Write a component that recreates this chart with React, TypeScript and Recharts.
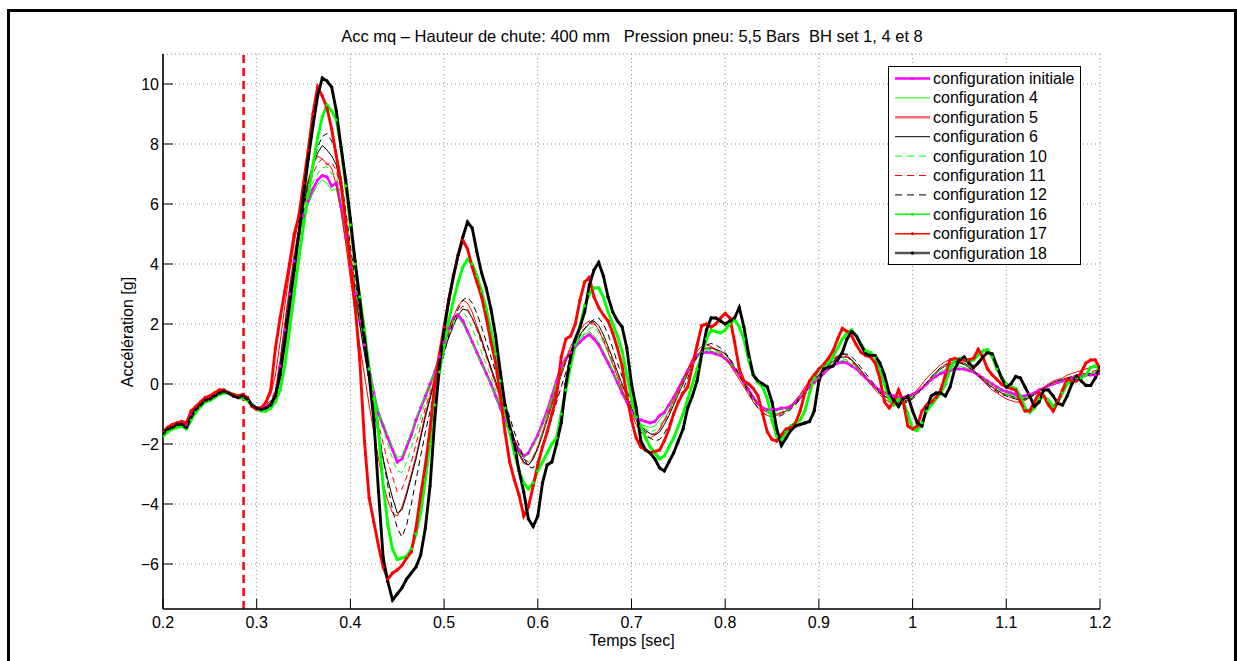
import React from 'react';
import { LineChart, Line, XAxis, YAxis, CartesianGrid, ReferenceLine, Legend } from 'recharts';

// Sampling grid: 0.200 s to 1.200 s, every 5 ms (201 samples)
const T_START = 0.2;
const T_STEP = 0.005;
const N_SAMPLES = 201;
const TIME: number[] = Array.from({ length: N_SAMPLES }, (_, i) => Math.round((T_START + i * T_STEP) * 1000) / 1000);

const X_TICKS = [0.2, 0.3, 0.4, 0.5, 0.6, 0.7, 0.8, 0.9, 1, 1.1, 1.2];
const Y_TICKS = [-6, -4, -2, 0, 2, 4, 6, 8, 10];
const X_DOMAIN: [number, number] = [0.2, 1.2];
const Y_DOMAIN: [number, number] = [-7.5, 11];
const DROP_TIME = 0.286;

const TITLE = 'Acc mq \u2013 Hauteur de chute: 400 mm   Pression pneu: 5,5 Bars  BH set 1, 4 et 8';
const X_LABEL = 'Temps [sec]';
const Y_LABEL = 'Acc\u00e9l\u00e9ration [g]';

// configuration initiale
const CFG_INIT = [
  -1.6,-1.5,-1.4,-1.35,-1.35,-1.4,-1.05,-0.85,-0.7,-0.55,-0.45,-0.35,-0.3,-0.25,-0.3,-0.4,-0.45,-0.45,-0.5,-0.7,-0.8,-0.8,-0.75,-0.7,
  -0.4,0.6,1.8,3.0,4.1,5.0,5.6,6.1,6.5,6.8,6.95,6.9,6.6,6.7,5.9,4.9,3.9,3.0,2.1,1.3,0.5,-0.3,-1.0,-1.4,-1.8,-2.2,-2.6,-2.5,-2.1,-1.7,-1.2,-0.8,-0.4,0.0,0.4,0.9,
  1.4,1.85,2.2,2.3,2.1,1.75,1.4,1.05,0.7,0.35,0.0,-0.4,-0.8,-1.2,-1.6,-1.95,-2.2,-2.4,-2.3,-2.0,-1.7,-1.3,-0.9,-0.4,0.1,0.6,0.85,1.05,1.25,1.4,1.55,1.65,1.5,1.3,1.0,0.7,0.4,0.05,-0.3,-0.6,
  -0.95,-1.15,-1.2,-1.25,-1.3,-1.25,-1.05,-0.95,-0.7,-0.45,-0.15,0.15,0.45,0.7,0.95,1.05,1.05,1.05,1.0,0.95,0.85,0.7,0.5,0.3,0.05,-0.2,-0.45,-0.65,-0.8,-0.85,-0.85,-0.85,-0.8,-0.8,-0.75,-0.6,-0.45,-0.25,-0.1,0.05,
  0.2,0.35,0.5,0.6,0.7,0.73,0.7,0.6,0.5,0.35,0.2,0.05,-0.1,-0.2,-0.3,-0.35,-0.4,-0.45,-0.45,-0.4,-0.35,-0.25,-0.15,0.0,0.15,0.25,0.35,0.4,0.45,0.5,0.5,0.5,0.45,0.4,0.3,0.2,0.1,0.0,-0.1,-0.2,
  -0.25,-0.3,-0.35,-0.4,-0.4,-0.35,-0.3,-0.2,-0.15,-0.05,0.0,0.05,0.1,0.15,0.2,0.2,0.25,0.3,0.3,0.3,0.35,
];

// configuration 4
const CFG_4 = [
  -1.7,-1.55,-1.45,-1.4,-1.4,-1.5,-1.15,-0.9,-0.75,-0.6,-0.5,-0.4,-0.3,-0.3,-0.35,-0.4,-0.5,-0.5,-0.55,-0.75,-0.85,-0.85,-0.8,-0.75,
  -0.5,0.5,1.7,2.9,4.0,4.9,5.5,6.0,6.35,6.65,6.8,6.7,6.45,6.5,5.8,4.8,3.8,2.9,2.0,1.2,0.4,-0.3,-0.9,-1.3,-1.7,-2.1,-2.45,-2.4,-2.0,-1.6,-1.15,-0.75,-0.35,0.05,0.45,0.9,
  1.35,1.8,2.1,2.2,2.0,1.7,1.35,1.0,0.65,0.3,-0.05,-0.45,-0.85,-1.25,-1.65,-2.0,-2.25,-2.45,-2.35,-2.05,-1.75,-1.35,-0.95,-0.45,0.05,0.55,0.85,1.1,1.3,1.5,1.65,1.75,1.6,1.4,1.1,0.8,0.45,0.1,-0.25,-0.6,
  -0.95,-1.2,-1.35,-1.4,-1.45,-1.4,-1.2,-1.0,-0.75,-0.5,-0.2,0.1,0.4,0.7,0.95,1.05,1.1,1.1,1.05,0.95,0.85,0.7,0.5,0.3,0.05,-0.2,-0.45,-0.65,-0.8,-0.9,-0.9,-0.9,-0.85,-0.8,-0.75,-0.6,-0.45,-0.25,-0.1,0.05,
  0.2,0.35,0.5,0.62,0.72,0.78,0.75,0.65,0.5,0.35,0.2,0.05,-0.1,-0.2,-0.3,-0.4,-0.45,-0.5,-0.5,-0.45,-0.4,-0.3,-0.15,0.0,0.15,0.3,0.4,0.5,0.55,0.6,0.6,0.55,0.5,0.4,0.3,0.2,0.1,0.0,-0.1,-0.2,
  -0.3,-0.35,-0.4,-0.45,-0.45,-0.4,-0.35,-0.25,-0.15,-0.05,0.0,0.05,0.1,0.15,0.2,0.25,0.25,0.3,0.35,0.4,0.4,
];

// configuration 5
const CFG_5 = [
  -1.55,-1.4,-1.35,-1.25,-1.25,-1.3,-0.95,-0.75,-0.6,-0.45,-0.4,-0.3,-0.2,-0.2,-0.25,-0.35,-0.4,-0.4,-0.45,-0.7,-0.8,-0.75,-0.6,-0.35,
  0.3,1.4,2.6,3.7,4.7,5.5,6.2,6.8,7.3,7.6,7.5,7.35,7.2,6.6,5.8,4.7,3.5,2.4,1.3,0.3,-0.7,-1.6,-2.5,-3.3,-3.9,-4.3,-4.4,-4.1,-3.6,-3.0,-2.4,-1.7,-1.0,-0.4,0.2,0.7,
  1.25,1.8,2.25,2.6,2.8,2.7,2.4,1.95,1.5,1.0,0.5,0.0,-0.5,-1.0,-1.5,-1.95,-2.35,-2.65,-2.7,-2.5,-2.1,-1.6,-1.1,-0.6,-0.1,0.4,0.85,1.25,1.55,1.8,2.0,2.1,2.05,1.8,1.45,1.05,0.65,0.25,-0.2,-0.6,
  -1.0,-1.35,-1.6,-1.75,-1.8,-1.7,-1.5,-1.2,-0.9,-0.55,-0.2,0.15,0.5,0.85,1.1,1.25,1.3,1.25,1.15,1.0,0.85,0.65,0.4,0.15,-0.1,-0.35,-0.6,-0.8,-0.95,-1.05,-1.1,-1.05,-1.0,-0.9,-0.75,-0.55,-0.35,-0.1,0.1,0.3,
  0.45,0.6,0.75,0.85,0.95,1.0,0.95,0.8,0.6,0.4,0.2,0.0,-0.2,-0.35,-0.5,-0.6,-0.65,-0.65,-0.6,-0.5,-0.35,-0.2,0.0,0.2,0.35,0.5,0.65,0.75,0.8,0.8,0.75,0.65,0.55,0.4,0.25,0.1,-0.05,-0.2,-0.3,-0.4,
  -0.5,-0.55,-0.6,-0.6,-0.55,-0.45,-0.35,-0.2,-0.1,0.0,0.1,0.15,0.2,0.3,0.35,0.4,0.45,0.5,0.55,0.55,0.6,
];

// configuration 6
const CFG_6 = [
  -1.65,-1.5,-1.45,-1.35,-1.35,-1.4,-1.05,-0.85,-0.7,-0.55,-0.5,-0.4,-0.3,-0.25,-0.3,-0.4,-0.45,-0.45,-0.5,-0.7,-0.8,-0.85,-0.75,-0.6,
  -0.3,0.7,1.9,3.1,4.2,5.2,6.0,6.7,7.3,7.7,7.95,7.8,7.6,7.3,6.5,5.4,4.2,3.1,2.0,1.0,0.1,-0.8,-1.7,-2.5,-3.2,-3.8,-4.3,-4.2,-3.7,-3.1,-2.5,-1.8,-1.1,-0.5,0.1,0.6,
  1.1,1.55,1.95,2.3,2.5,2.45,2.2,1.85,1.45,1.0,0.55,0.1,-0.4,-0.9,-1.4,-1.85,-2.3,-2.6,-2.7,-2.5,-2.15,-1.7,-1.2,-0.7,-0.2,0.3,0.75,1.1,1.4,1.65,1.85,2.0,2.1,1.95,1.65,1.25,0.85,0.4,0.0,-0.4,
  -0.8,-1.15,-1.4,-1.55,-1.65,-1.7,-1.6,-1.35,-1.05,-0.7,-0.35,0.0,0.35,0.7,0.95,1.1,1.2,1.2,1.15,1.1,1.0,0.8,0.55,0.3,0.05,-0.2,-0.45,-0.7,-0.85,-0.95,-1.0,-1.0,-0.95,-0.9,-0.8,-0.65,-0.45,-0.25,-0.05,0.15,
  0.3,0.45,0.6,0.75,0.85,0.9,0.9,0.8,0.65,0.45,0.25,0.05,-0.1,-0.3,-0.4,-0.5,-0.55,-0.6,-0.6,-0.55,-0.45,-0.3,-0.15,0.05,0.2,0.35,0.5,0.6,0.65,0.7,0.7,0.65,0.55,0.45,0.3,0.15,0.0,-0.1,-0.2,-0.3,
  -0.35,-0.4,-0.45,-0.5,-0.5,-0.45,-0.35,-0.25,-0.15,-0.05,0.05,0.1,0.15,0.2,0.2,0.25,0.3,0.3,0.3,0.35,0.4,
];

// configuration 10
const CFG_10 = [
  -1.65,-1.5,-1.4,-1.35,-1.3,-1.4,-1.1,-0.85,-0.7,-0.55,-0.45,-0.35,-0.25,-0.25,-0.3,-0.4,-0.45,-0.45,-0.5,-0.7,-0.8,-0.85,-0.8,-0.7,
  -0.5,0.5,1.7,2.9,4.0,4.9,5.6,6.2,6.7,7.0,7.2,7.25,7.0,6.9,6.3,5.3,4.2,3.2,2.2,1.3,0.5,-0.3,-1.0,-1.5,-2.0,-2.5,-2.9,-2.95,-2.6,-2.1,-1.6,-1.1,-0.6,-0.15,0.3,0.8,
  1.3,1.8,2.15,2.35,2.4,2.2,1.85,1.45,1.05,0.65,0.25,-0.2,-0.65,-1.1,-1.55,-1.95,-2.3,-2.5,-2.6,-2.4,-2.05,-1.6,-1.15,-0.65,-0.15,0.35,0.75,1.05,1.3,1.5,1.7,1.85,1.9,1.7,1.4,1.05,0.7,0.3,-0.1,-0.5,
  -0.9,-1.2,-1.4,-1.5,-1.6,-1.55,-1.4,-1.15,-0.9,-0.6,-0.3,0.05,0.4,0.7,0.95,1.1,1.15,1.15,1.1,1.0,0.9,0.75,0.55,0.3,0.05,-0.25,-0.5,-0.7,-0.85,-0.95,-1.0,-1.0,-0.95,-0.9,-0.8,-0.65,-0.45,-0.25,-0.05,0.1,
  0.25,0.4,0.55,0.7,0.8,0.85,0.8,0.7,0.55,0.4,0.2,0.05,-0.1,-0.25,-0.35,-0.45,-0.5,-0.55,-0.55,-0.5,-0.4,-0.3,-0.15,0.0,0.2,0.35,0.5,0.6,0.65,0.7,0.7,0.65,0.55,0.45,0.35,0.2,0.1,-0.05,-0.15,-0.25,
  -0.35,-0.4,-0.45,-0.5,-0.5,-0.45,-0.35,-0.25,-0.15,-0.05,0.05,0.1,0.15,0.2,0.25,0.25,0.3,0.35,0.35,0.4,0.45,
];

// configuration 11
const CFG_11 = [
  -1.6,-1.45,-1.4,-1.3,-1.3,-1.35,-1.0,-0.8,-0.65,-0.5,-0.45,-0.35,-0.25,-0.2,-0.3,-0.35,-0.45,-0.4,-0.5,-0.7,-0.8,-0.8,-0.7,-0.55,
  -0.2,0.8,2.0,3.2,4.3,5.2,5.9,6.5,7.0,7.35,7.5,7.3,7.4,7.1,6.5,5.5,4.4,3.3,2.3,1.3,0.4,-0.5,-1.3,-2.0,-2.6,-3.1,-3.6,-3.5,-3.1,-2.6,-2.0,-1.4,-0.8,-0.3,0.2,0.7,
  1.2,1.7,2.1,2.4,2.6,2.5,2.2,1.8,1.35,0.9,0.45,0.0,-0.45,-0.9,-1.35,-1.8,-2.2,-2.5,-2.6,-2.45,-2.1,-1.65,-1.2,-0.7,-0.2,0.3,0.75,1.1,1.4,1.65,1.85,2.0,2.0,1.8,1.5,1.15,0.75,0.35,-0.05,-0.45,
  -0.85,-1.2,-1.45,-1.6,-1.7,-1.65,-1.5,-1.25,-0.95,-0.65,-0.3,0.05,0.4,0.75,1.0,1.15,1.2,1.2,1.15,1.05,0.9,0.7,0.5,0.25,0.0,-0.25,-0.5,-0.7,-0.85,-0.95,-1.0,-1.0,-0.95,-0.85,-0.7,-0.55,-0.35,-0.15,0.05,0.2,
  0.35,0.5,0.65,0.8,0.9,0.95,0.9,0.75,0.6,0.45,0.25,0.05,-0.1,-0.25,-0.4,-0.5,-0.55,-0.6,-0.6,-0.55,-0.45,-0.3,-0.15,0.05,0.2,0.4,0.55,0.65,0.7,0.75,0.75,0.7,0.6,0.5,0.35,0.2,0.05,-0.1,-0.2,-0.3,
  -0.4,-0.45,-0.5,-0.55,-0.5,-0.45,-0.35,-0.25,-0.15,-0.05,0.05,0.1,0.15,0.2,0.25,0.3,0.35,0.35,0.4,0.45,0.5,
];

// configuration 12
const CFG_12 = [
  -1.7,-1.55,-1.45,-1.4,-1.35,-1.45,-1.1,-0.9,-0.7,-0.6,-0.5,-0.4,-0.3,-0.3,-0.3,-0.4,-0.45,-0.45,-0.55,-0.7,-0.85,-0.85,-0.8,-0.7,
  -0.5,0.4,1.6,2.8,3.9,4.9,5.8,6.6,7.3,7.9,8.25,8.35,8.1,7.7,6.9,5.8,4.6,3.5,2.4,1.4,0.4,-0.5,-1.5,-2.5,-3.4,-4.2,-4.8,-5.1,-4.7,-4.0,-3.2,-2.4,-1.6,-0.9,-0.2,0.4,
  1.0,1.6,2.1,2.5,2.8,2.9,2.7,2.35,1.9,1.4,0.9,0.4,-0.1,-0.6,-1.1,-1.6,-2.05,-2.45,-2.75,-2.8,-2.55,-2.15,-1.65,-1.15,-0.6,-0.1,0.4,0.85,1.25,1.6,1.85,2.05,2.15,2.2,2.0,1.65,1.2,0.7,0.25,-0.2,
  -0.65,-1.05,-1.4,-1.65,-1.8,-1.9,-1.85,-1.65,-1.35,-1.0,-0.6,-0.2,0.2,0.6,0.9,1.15,1.3,1.35,1.3,1.2,1.05,0.85,0.6,0.3,0.0,-0.3,-0.55,-0.8,-0.95,-1.05,-1.1,-1.1,-1.05,-0.95,-0.85,-0.7,-0.5,-0.3,-0.05,0.15,
  0.35,0.5,0.65,0.8,0.9,1.0,1.0,0.9,0.75,0.55,0.35,0.15,-0.05,-0.25,-0.4,-0.5,-0.6,-0.65,-0.65,-0.6,-0.5,-0.35,-0.15,0.05,0.25,0.4,0.55,0.65,0.7,0.75,0.75,0.7,0.6,0.45,0.3,0.15,0.0,-0.15,-0.25,-0.35,
  -0.4,-0.45,-0.5,-0.55,-0.5,-0.45,-0.35,-0.25,-0.15,-0.05,0.05,0.1,0.15,0.2,0.25,0.3,0.3,0.35,0.35,0.4,0.45,
];

// configuration 16
const CFG_16 = [
  -1.75,-1.6,-1.5,-1.45,-1.4,-1.5,-1.2,-0.95,-0.75,-0.6,-0.55,-0.45,-0.35,-0.3,-0.3,-0.35,-0.4,-0.45,-0.55,-0.7,-0.85,-0.9,-0.9,-0.8,
  -0.6,-0.2,0.6,1.8,3.0,4.2,5.3,6.3,7.3,8.2,8.9,9.3,9.1,8.8,7.9,6.6,5.3,4.0,2.9,1.8,0.5,-0.5,-1.6,-3.4,-4.7,-5.5,-5.85,-5.8,-5.75,-5.5,-5.0,-4.3,-3.2,-2.0,-0.7,0.4,
  1.3,2.1,2.8,3.4,3.9,4.15,4.0,3.6,3.1,2.5,1.8,1.0,0.1,-0.8,-1.6,-2.3,-2.9,-3.3,-3.5,-3.3,-2.9,-2.6,-2.3,-2.0,-1.8,-1.0,-0.2,0.6,1.3,1.9,2.6,3.0,3.2,3.2,2.9,2.4,2.0,1.6,1.1,0.3,
  -0.5,-1.1,-1.4,-1.8,-2.1,-2.3,-2.5,-2.4,-2.1,-1.8,-1.4,-1.0,-0.5,0.0,0.5,1.0,1.5,1.8,1.75,1.7,1.8,2.0,2.15,1.9,1.5,0.8,0.3,0.05,-0.1,-0.5,-1.2,-1.75,-1.85,-1.6,-1.4,-1.3,-1.2,-0.9,-0.3,0.2,
  0.5,0.6,0.7,0.9,1.2,1.5,1.7,1.8,1.6,1.3,1.1,1.05,0.9,0.5,0.0,-0.5,-0.7,-0.5,-0.6,-1.0,-1.5,-1.55,-1.3,-0.9,-0.7,-0.5,-0.3,0.0,0.5,0.8,0.85,0.8,0.75,0.8,0.95,1.1,1.15,0.9,0.5,0.2,
  0.0,-0.1,-0.15,-0.4,-0.8,-0.95,-0.8,-0.5,-0.4,-0.55,-0.75,-0.6,-0.3,0.0,0.1,0.2,0.2,0.3,0.55,0.6,0.5,
];

// configuration 17
const CFG_17 = [
  -1.6,-1.45,-1.35,-1.3,-1.25,-1.3,-0.9,-0.75,-0.6,-0.45,-0.4,-0.3,-0.2,-0.2,-0.3,-0.35,-0.4,-0.35,-0.45,-0.75,-0.85,-0.8,-0.6,-0.2,
  1.2,2.2,3.1,4.0,5.0,5.6,6.7,7.8,9.0,9.9,9.6,9.2,8.5,7.6,6.7,5.4,4.0,2.6,0.8,-1.9,-3.8,-4.6,-5.4,-6.1,-6.5,-6.3,-6.2,-6.05,-5.8,-5.6,-4.8,-3.7,-2.7,-1.5,0.0,1.0,
  1.9,2.8,3.6,4.3,4.8,4.5,3.9,3.4,2.9,2.2,1.4,0.7,-0.4,-1.6,-2.6,-3.2,-3.7,-4.4,-4.1,-3.4,-2.7,-2.1,-1.6,-1.0,-0.4,0.9,1.5,1.6,2.0,2.8,3.4,3.55,2.9,2.55,2.3,2.1,1.7,1.2,0.6,-0.4,
  -1.2,-1.8,-2.1,-2.2,-2.3,-2.25,-2.2,-1.9,-1.5,-1.0,-0.6,-0.3,-0.1,0.6,1.3,1.95,2.0,1.9,2.0,2.2,2.35,2.2,1.4,0.5,0.1,0.0,-0.15,-0.4,-1.0,-1.6,-1.85,-1.9,-1.7,-1.5,-1.45,-1.3,-0.9,-0.3,0.1,0.3,
  0.5,0.65,0.85,1.1,1.5,1.85,1.75,1.6,1.3,1.05,0.95,0.9,0.7,0.2,-0.6,-0.8,-0.6,-0.2,-0.6,-1.4,-1.5,-1.4,-0.9,-0.7,-0.6,-0.45,-0.2,0.3,0.8,0.85,0.8,0.8,0.8,0.85,1.15,0.9,0.5,0.3,0.15,0.0,
  -0.1,-0.15,-0.2,-0.6,-0.9,-0.9,-0.6,-0.3,-0.4,-0.7,-0.9,-0.6,-0.2,0.15,0.1,0.1,0.4,0.7,0.8,0.8,0.5,
];

// configuration 18
const CFG_18 = [
  -1.65,-1.5,-1.45,-1.35,-1.35,-1.45,-1.1,-0.85,-0.7,-0.55,-0.5,-0.4,-0.3,-0.25,-0.3,-0.4,-0.45,-0.4,-0.5,-0.7,-0.8,-0.85,-0.8,-0.7,
  -0.4,0.3,1.4,2.6,3.8,5.0,6.3,7.5,8.6,9.6,10.2,10.1,9.9,9.1,7.9,6.8,5.5,4.1,2.8,1.5,0.3,-1.2,-3.6,-5.8,-6.6,-7.2,-7.0,-6.8,-6.5,-6.3,-6.1,-5.7,-4.8,-3.4,-1.2,0.6,
  1.8,2.8,3.6,4.3,4.9,5.4,5.2,4.4,3.7,3.2,2.5,1.6,0.4,-0.7,-1.4,-2.0,-2.9,-3.6,-4.5,-4.75,-4.4,-3.3,-2.7,-2.6,-2.0,-1.3,0.0,0.9,1.5,1.9,2.4,3.3,3.8,4.05,3.6,2.9,2.4,2.1,1.9,1.2,
  0.0,-0.8,-1.9,-2.2,-2.3,-2.5,-2.8,-2.9,-2.6,-2.3,-1.9,-1.5,-0.8,-0.4,0.1,1.0,1.8,2.2,2.2,2.1,2.0,2.1,2.2,2.55,1.9,1.0,0.3,0.1,0.0,-0.1,-0.6,-1.5,-2.05,-1.8,-1.55,-1.4,-1.35,-1.3,-1.25,-0.9,
  0.1,0.5,0.55,0.6,0.8,1.05,1.5,1.75,1.6,1.3,1.0,0.95,0.95,0.7,0.3,-0.3,-0.55,-0.75,-0.5,-0.4,-0.9,-1.3,-1.4,-0.8,-0.4,-0.3,-0.3,-0.4,-0.1,0.5,0.8,0.9,0.7,0.55,0.7,0.9,1.05,1.0,0.6,0.2,
  -0.1,0.0,0.25,0.2,-0.1,-0.4,-0.75,-0.6,-0.2,-0.2,-0.4,-0.65,-0.7,-0.4,0.0,0.25,0.1,-0.05,-0.05,0.2,0.55,
];

type SeriesStyle = {
  key: string;
  name: string;
  values: number[];
  color: string;
  width: number;
  dash?: string;
  dot?: boolean;
  legendColor: string;
  legendWidth: number;
};

const SERIES: SeriesStyle[] = [
  { key: 'cInit', name: 'configuration initiale', values: CFG_INIT, color: '#ff00ff', width: 2.6, dot: true, legendColor: '#ff00ff', legendWidth: 2.5 },
  { key: 'c4', name: 'configuration 4', values: CFG_4, color: '#00ff00', width: 1, legendColor: '#00ff00', legendWidth: 1 },
  { key: 'c5', name: 'configuration 5', values: CFG_5, color: '#ff0000', width: 1, legendColor: '#ff6a6a', legendWidth: 2.5 },
  { key: 'c6', name: 'configuration 6', values: CFG_6, color: '#000000', width: 1, legendColor: '#000000', legendWidth: 1 },
  { key: 'c10', name: 'configuration 10', values: CFG_10, color: '#00ff00', width: 1, dash: '6 4', legendColor: '#00ff00', legendWidth: 1 },
  { key: 'c11', name: 'configuration 11', values: CFG_11, color: '#ff0000', width: 1, dash: '6 4', legendColor: '#ff0000', legendWidth: 1 },
  { key: 'c12', name: 'configuration 12', values: CFG_12, color: '#000000', width: 1, dash: '6 4', legendColor: '#000000', legendWidth: 1 },
  { key: 'c16', name: 'configuration 16', values: CFG_16, color: '#00ff00', width: 2.9, dot: true, legendColor: '#00ff00', legendWidth: 1.5 },
  { key: 'c17', name: 'configuration 17', values: CFG_17, color: '#ff0000', width: 2.9, dot: true, legendColor: '#ff0000', legendWidth: 1.5 },
  { key: 'c18', name: 'configuration 18', values: CFG_18, color: '#000000', width: 2.9, dot: true, legendColor: '#555555', legendWidth: 2.5 },
];

const DATA = TIME.map((t, i) => {
  const row: Record<string, number> = { t };
  SERIES.forEach((s) => {
    row[s.key] = s.values[i];
  });
  return row;
});

const FONT = '"Liberation Sans", Arial, Helvetica, sans-serif';
const FONT_SIZE = 16;
const TITLE_SIZE = 16.5;

const fmtX = (v: number) => String(Math.round(v * 10) / 10);
const fmtY = (v: number) => (v < 0 ? '\u2212' + String(-v) : String(v));

const LegendBox = () => (
  <svg width={193} height={199} style={{ display: 'block' }}>
    <rect x={0.5} y={0.5} width={192} height={198} fill="#ffffff" stroke="#000000" strokeWidth={1} />
    {SERIES.map((s, i) => {
      const y = 12.5 + i * 19.4;
      return (
        <g key={s.key}>
          <line x1={7} x2={42} y1={y} y2={y} stroke={s.legendColor} strokeWidth={s.legendWidth} strokeDasharray={s.dash ? '7 5' : undefined} />
          {s.dot ? <circle cx={24.5} cy={y} r={1.6} fill={s.color} /> : null}
          <text x={45} y={y + 5.5} fontSize={FONT_SIZE} fontFamily={FONT} fill="#000">{s.name}</text>
        </g>
      );
    })}
  </svg>
);

export default function App() {
  return (
    <div style={{ position: 'fixed', left: 0, top: 0, width: 1237, height: 661, overflow: 'hidden', background: '#ffffff' }}>
      <div
        style={{
          position: 'absolute',
          left: 7,
          top: 9,
          width: 1230,
          height: 700,
          boxSizing: 'border-box',
          borderLeft: '3px solid #000',
          borderTop: '3px solid #000',
          borderRight: '3px solid #000',
        }}
      />
      <div style={{ position: 'absolute', left: 0, top: 0 }}>
        <LineChart width={1237} height={661} data={DATA} margin={{ top: 54, right: 137, bottom: 22, left: 103 }}>
          <CartesianGrid stroke="#8a8a8a" strokeDasharray="1 3" strokeWidth={1} />
          <XAxis
            dataKey="t"
            type="number"
            domain={X_DOMAIN}
            ticks={X_TICKS}
            allowDataOverflow
            height={30}
            tickFormatter={fmtX}
            tickSize={-10}
            tickMargin={18}
            axisLine={{ stroke: '#000', strokeWidth: 1.6 }}
            tickLine={{ stroke: '#000', strokeWidth: 1 }}
            tick={{ fill: '#000', fontSize: FONT_SIZE, fontFamily: FONT }}
            interval={0}
          />
          <XAxis
            xAxisId="top"
            orientation="top"
            dataKey="t"
            type="number"
            domain={X_DOMAIN}
            ticks={X_TICKS}
            allowDataOverflow
            height={0}
            tick={false}
            tickSize={-10}
            axisLine={{ stroke: '#000', strokeWidth: 1.2 }}
            tickLine={{ stroke: '#000', strokeWidth: 1 }}
            interval={0}
          />
          <YAxis
            type="number"
            domain={Y_DOMAIN}
            ticks={Y_TICKS}
            allowDataOverflow
            width={60}
            tickFormatter={fmtY}
            tickSize={-10}
            tickMargin={14}
            axisLine={{ stroke: '#000', strokeWidth: 1.6 }}
            tickLine={{ stroke: '#000', strokeWidth: 1 }}
            tick={{ fill: '#000', fontSize: FONT_SIZE, fontFamily: FONT }}
            interval={0}
          />
          <YAxis
            yAxisId="right"
            orientation="right"
            type="number"
            domain={Y_DOMAIN}
            ticks={Y_TICKS}
            allowDataOverflow
            width={0}
            tick={false}
            tickSize={-10}
            axisLine={{ stroke: '#000', strokeWidth: 1.6 }}
            tickLine={{ stroke: '#000', strokeWidth: 1 }}
            interval={0}
          />
          <ReferenceLine x={DROP_TIME} stroke="#ff0000" strokeWidth={2.5} strokeDasharray="8 5" />
          {SERIES.map((s) => (
            <Line
              key={s.key}
              type="linear"
              dataKey={s.key}
              name={s.name}
              stroke={s.color}
              strokeWidth={s.width}
              strokeDasharray={s.dash}
              dot={s.dot ? { r: 1.4, fill: s.color, stroke: s.color, strokeWidth: 0.4 } : false}
              activeDot={false}
              isAnimationActive={false}
            />
          ))}
          <Legend
            layout="vertical"
            align="center"
            verticalAlign="middle"
            content={() => <LegendBox />}
            wrapperStyle={{ position: 'absolute', left: 888, top: 66, width: 193, height: 199, margin: 0 }}
          />
        </LineChart>
      </div>
      <svg width={1237} height={661} style={{ position: 'absolute', left: 0, top: 0, pointerEvents: 'none' }}>
        <text x={632} y={42} textAnchor="middle" fontSize={TITLE_SIZE} fontFamily={FONT} fill="#000" style={{ whiteSpace: 'pre' }}>
          {TITLE}
        </text>
        <text x={632} y={646} textAnchor="middle" fontSize={FONT_SIZE} fontFamily={FONT} fill="#000">
          {X_LABEL}
        </text>
        <text x={133} y={332} textAnchor="middle" fontSize={FONT_SIZE} fontFamily={FONT} fill="#000" transform="rotate(-90 133 332)">
          {Y_LABEL}
        </text>
      </svg>
    </div>
  );
}
